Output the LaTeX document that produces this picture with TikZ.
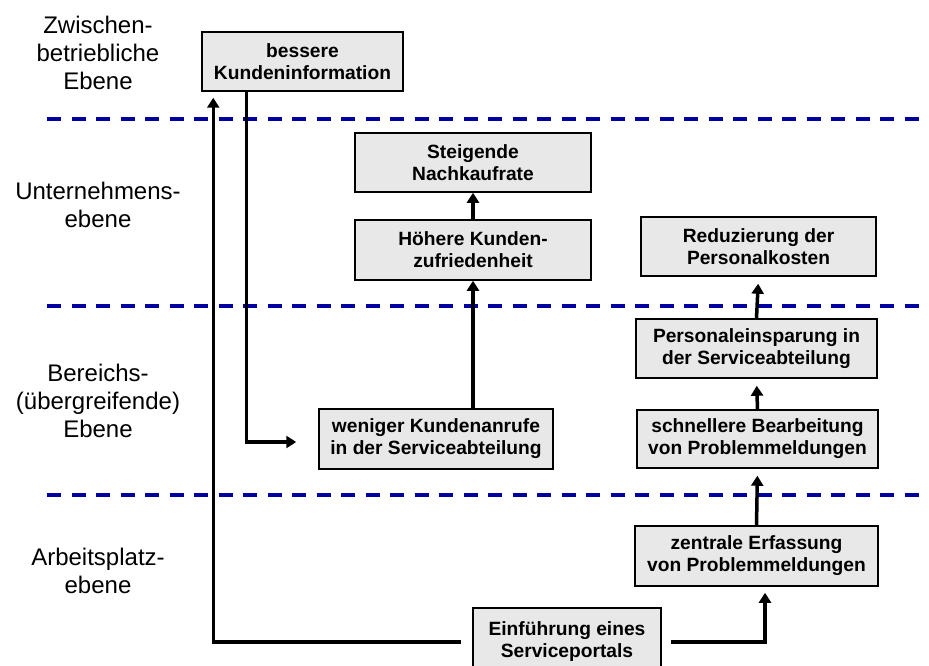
\documentclass[tikz,border=0pt]{standalone}
\usepackage{fontspec}
\setmainfont{Liberation Sans}
\usepackage{tikz}
\usetikzlibrary{arrows.meta}
\definecolor{boxgray}{RGB}{232,232,232}
\definecolor{levelblue}{RGB}{0,0,160}

\begin{document}
\begin{tikzpicture}[x=1pt,y=-1pt]
        %
        % `box' is used for the effect boxes.
        % `arr' is used for the thick arrows.
        % `level' is used for the dashed separators, `ebene' for their names.
        \tikzstyle{box} = [draw,fill=boxgray,line width=1.5pt,inner sep=0pt,align=center,
                           font=\fontsize{19.2}{22}\selectfont\bfseries]
        \tikzstyle{arr} = [line width=3.5pt,-{Triangle[width=12pt,length=10pt]}]
        \tikzstyle{level} = [levelblue,line width=4pt,dash pattern=on 14pt off 10.5pt]
        \tikzstyle{ebene} = [align=center,font=\fontsize{24}{28}\selectfont]
        \useasboundingbox (0,0) rectangle (929,666);
        %
        % Separators
        \draw[level] (47,119) -- (929,119);
        \draw[level] (47,306) -- (929,306);
        \draw[level] (47,495) -- (929,495);
        %
        % Level names
        \node[ebene] (zwischen) at (98,53) {Zwischen-\\betriebliche\\Ebene};
        \node[ebene] (unternehmen) at (98,205) {Unternehmens-\\ebene};
        \node[ebene] (bereich) at (98,401) {Bereichs-\\(übergreifende)\\Ebene};
        \node[ebene] (arbeitsplatz) at (98,571) {Arbeitsplatz-\\ebene};
        %
        % Column 1
        \node[box,minimum width=201pt,minimum height=59pt] (bessere) at (302.5,61.5) {bessere\\Kundeninformation};
        \node[box,minimum width=234pt,minimum height=60pt] (weniger) at (436,439) {weniger Kundenanrufe\\in der Serviceabteilung};
        \node[box,minimum width=188pt,minimum height=68pt] (einf) at (567,642) {Einführung eines\\Serviceportals};
        %
        % Column 2
        \node[box,minimum width=236pt,minimum height=59pt] (steig) at (473,162.5) {Steigende\\Nachkaufrate};
        \node[box,minimum width=236pt,minimum height=60pt] (hoeher) at (473,250) {Höhere Kunden-\\zufriedenheit};
        %
        % Column 3
        \node[box,minimum width=235pt,minimum height=59pt] (reduz) at (758.5,246.5) {Reduzierung der\\Personalkosten};
        \node[box,minimum width=241pt,minimum height=59pt] (persein) at (756.5,348.5) {Personaleinsparung in\\der Serviceabteilung};
        \node[box,minimum width=241pt,minimum height=58pt] (schnell) at (757.5,439) {schnellere Bearbeitung\\von Problemmeldungen};
        \node[box,minimum width=243pt,minimum height=60pt] (zentral) at (756.5,556) {zentrale Erfassung\\von Problemmeldungen};
        %
        % Arrows
        \draw[arr,shorten <=11pt,shorten >=6pt] (einf.west) -| ([xshift=12pt]bessere.south west);
        \draw[arr,shorten >=22pt] ([xshift=45pt]bessere.south west) |- ([yshift=-3pt]weniger.west);
        \draw[arr] (weniger.north -| hoeher.south) -- (hoeher.south);
        \draw[arr] (hoeher.north) -- (steig.south);
        \draw[arr,shorten <=9pt,shorten >=6pt] (einf.east) -| ([xshift=8.5pt]zentral.south);
        \draw[arr,shorten >=7pt] (zentral.north) -- (schnell.south);
        \draw[arr,shorten >=7pt] (schnell.north) -- (persein.south);
        \draw[arr,shorten >=7pt] (persein.north) -- (reduz.south);
        %
\end{tikzpicture}
\end{document}
